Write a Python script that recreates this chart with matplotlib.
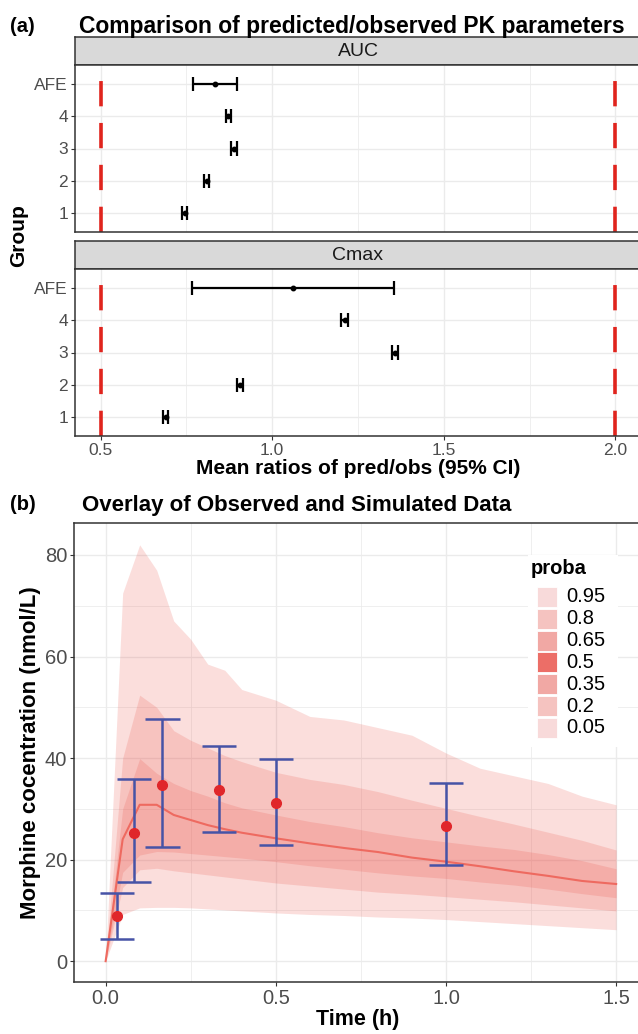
import matplotlib
matplotlib.use('Agg')
import matplotlib.pyplot as plt
from matplotlib.patches import Rectangle

plt.rcParams['font.family'] = ['Liberation Sans', 'DejaVu Sans']

W, H = 638, 1034          # output size in pixels (dpi 100)

# ---------------- panel (a): mean ratios pred/obs ----------------
groups = ['1', '2', '3', '4', 'AFE']
auc_mean = [0.745, 0.809, 0.888, 0.872, 0.833]
auc_lo   = [0.738, 0.800, 0.880, 0.865, 0.768]
auc_hi   = [0.752, 0.817, 0.896, 0.880, 0.898]
cmax_mean = [0.689, 0.906, 1.358, 1.211, 1.060]
cmax_lo   = [0.681, 0.897, 1.348, 1.201, 0.765]
cmax_hi   = [0.697, 0.915, 1.368, 1.221, 1.354]
ratio_limits = [0.5, 2.0]
ratio_ticks = [0.5, 1.0, 1.5, 2.0]

# ---------------- panel (b): simulated percentiles + observed ----------------
sim_t = [0, 0.05, 0.1, 0.15, 0.2, 0.25, 0.3, 0.35, 0.4, 0.5, 0.6, 0.7,
         0.8, 0.9, 1.0, 1.1, 1.2, 1.3, 1.4, 1.5]
p95 = [0, 72.5, 82.0, 77.0, 67.0, 63.4, 58.5, 57.3, 53.5, 51.4, 48.2, 47.5,
       46.0, 44.5, 41.0, 38.0, 36.5, 35.0, 32.5, 30.8]
p80 = [0, 40.0, 52.4, 50.0, 45.4, 43.5, 42.0, 40.5, 39.3, 37.2, 35.8, 34.8,
       33.4, 31.7, 30.1, 28.5, 27.0, 25.4, 23.8, 21.9]
p65 = [0, 30.0, 39.9, 37.0, 35.0, 33.6, 32.5, 31.2, 30.2, 28.8, 27.5, 26.5,
       25.3, 24.3, 23.5, 22.7, 22.0, 21.0, 19.8, 18.2]
p50 = [0, 24.0, 30.8, 30.8, 28.8, 27.8, 26.8, 26.0, 25.3, 24.2, 23.2, 22.3,
       21.5, 20.4, 19.6, 18.7, 17.7, 16.8, 15.8, 15.2]
p35 = [0, 17.5, 20.9, 21.6, 21.5, 21.2, 20.9, 20.6, 20.3, 19.6, 18.8, 18.1,
       17.4, 16.8, 16.3, 15.6, 15.0, 14.2, 13.3, 12.5]
p20 = [0, 14.5, 18.0, 18.3, 17.8, 17.4, 17.0, 16.6, 16.2, 15.4, 14.8, 14.2,
       13.6, 13.2, 12.7, 12.2, 11.7, 11.1, 10.5, 9.9]
p05 = [0, 9.2, 10.5, 10.6, 10.6, 10.5, 10.3, 10.1, 9.9, 9.5, 9.2, 9.0,
       8.7, 8.5, 8.2, 7.8, 7.4, 7.0, 6.6, 6.2]

obs_t    = [0.033, 0.083, 0.167, 0.333, 0.5, 1.0]
obs_mean = [8.9, 25.3, 34.7, 33.8, 31.2, 26.6]
obs_lo   = [4.4, 15.5, 22.5, 25.5, 22.9, 18.9]
obs_hi   = [13.4, 35.8, 47.6, 42.3, 39.9, 35.0]

proba_labels = ['0.95', '0.8', '0.65', '0.5', '0.35', '0.2', '0.05']
proba_colors = ['#f8dada', '#f5c3c0', '#f1a8a4', '#ec6e67',
                '#f1a8a4', '#f5c3c0', '#f8dada']

GRID = '#ebebeb'
FRAME = '#333333'
TICKTXT = '#4d4d4d'


def box(x0, y0, x1, y1):
    """pixel box (top-left origin) -> figure fraction rect"""
    return [x0 / W, 1 - y1 / H, (x1 - x0) / W, (y1 - y0) / H]


def style_axes(ax, fs):
    for s in ax.spines.values():
        s.set_color(FRAME)
        s.set_linewidth(1.1)
    ax.tick_params(colors=FRAME, labelcolor=TICKTXT, labelsize=fs,
                   length=3, width=0.8, pad=2)
    ax.tick_params(which='minor', length=0)
    ax.grid(True, which='major', color=GRID, lw=1.0, zorder=0)
    ax.grid(True, which='minor', color=GRID, lw=0.55, zorder=0)
    ax.set_axisbelow(True)


def strip(rect, label):
    sax = fig.add_axes(rect)
    sax.set_facecolor('#d9d9d9')
    sax.set_xticks([])
    sax.set_yticks([])
    for s in sax.spines.values():
        s.set_color(FRAME)
        s.set_linewidth(1.1)
    sax.text(0.5, 0.47, label, ha='center', va='center', fontsize=14,
             color='#1a1a1a', transform=sax.transAxes)


def ratio_panel(rect, mean, lo, hi, show_x):
    ax = fig.add_axes(rect)
    ypos = list(range(len(groups)))
    ax.set_xlim(0.425, 2.075)
    ax.set_ylim(-0.6, len(groups) - 0.4)
    ax.set_xticks(ratio_ticks)
    ax.set_xticks([0.75, 1.25, 1.75], minor=True)
    ax.set_yticks(ypos)
    ax.set_yticklabels(groups)
    style_axes(ax, 12.5)
    for v in ratio_limits:
        ax.axvline(v, color='#e0241d', lw=2.6, linestyle=(0, (7, 4.6)), zorder=2)
    ax.hlines(ypos, lo, hi, color='black', lw=1.6, zorder=3)
    ax.vlines(lo, [y - 0.22 for y in ypos], [y + 0.22 for y in ypos],
              color='black', lw=1.6, zorder=3)
    ax.vlines(hi, [y - 0.22 for y in ypos], [y + 0.22 for y in ypos],
              color='black', lw=1.6, zorder=3)
    ax.plot(mean, ypos, 'o', color='black', ms=3.2, zorder=4)
    if show_x:
        ax.set_xticklabels(['0.5', '1.0', '1.5', '2.0'])
    else:
        ax.tick_params(axis='x', labelbottom=False, length=0)
    return ax


fig = plt.figure(figsize=(W / 100, H / 100), dpi=100)

# ----- (a) -----
fig.text(10 / W, 1 - 27 / H, '(a)', fontsize=14.5, fontweight='bold', va='center')
fig.text(79 / W, 1 - 26 / H, 'Comparison of predicted/observed PK parameters',
         fontsize=16.5, fontweight='bold', va='center')
strip(box(75, 37, 641, 65), 'AUC')
ratio_panel(box(75, 65, 641, 232), auc_mean, auc_lo, auc_hi, False)
strip(box(75, 241, 641, 269), 'Cmax')
ax_c = ratio_panel(box(75, 269, 641, 436), cmax_mean, cmax_lo, cmax_hi, True)
ax_c.set_xlabel('Mean ratios of pred/obs (95% CI)', fontsize=15,
                fontweight='bold', labelpad=1)
fig.text(19 / W, 1 - 236 / H, 'Group', rotation=90, fontsize=15,
         fontweight='bold', ha='center', va='center')

# ----- (b) -----
fig.text(10 / W, 1 - 505 / H, '(b)', fontsize=14.5, fontweight='bold', va='center')
fig.text(82 / W, 1 - 505 / H, 'Overlay of Observed and Simulated Data',
         fontsize=16, fontweight='bold', va='center')

ax = fig.add_axes(box(74, 523, 642, 982))
ax.set_xlim(-0.093, 1.576)
ax.set_ylim(-4.1, 86.3)
ax.set_xticks([0, 0.5, 1.0, 1.5])
ax.set_xticklabels(['0.0', '0.5', '1.0', '1.5'])
ax.set_xticks([0.25, 0.75, 1.25], minor=True)
ax.set_yticks([0, 20, 40, 60, 80])
ax.set_yticks([10, 30, 50, 70], minor=True)
style_axes(ax, 14.5)

band = '#ea4a40'
ax.fill_between(sim_t, p05, p95, color=band, alpha=0.18, lw=0, zorder=1)
ax.fill_between(sim_t, p20, p80, color=band, alpha=0.18, lw=0, zorder=1)
ax.fill_between(sim_t, p35, p65, color=band, alpha=0.18, lw=0, zorder=1)
ax.plot(sim_t, p50, color='#ee6a60', lw=1.5, zorder=2)

ax.vlines(obs_t, obs_lo, obs_hi, color='#4653a6', lw=1.8, zorder=3)
ax.hlines(obs_lo, [t - 0.05 for t in obs_t], [t + 0.05 for t in obs_t],
          color='#4653a6', lw=1.8, zorder=3)
ax.hlines(obs_hi, [t - 0.05 for t in obs_t], [t + 0.05 for t in obs_t],
          color='#4653a6', lw=1.8, zorder=3)
ax.plot(obs_t, obs_mean, 'o', color='#e0262a', ms=7, zorder=4)

ax.set_xlabel('Time (h)', fontsize=15.5, fontweight='bold', labelpad=1)
ax.set_ylabel('Morphine cocentration (nmol/L)', fontsize=16,
              fontweight='bold', labelpad=3)

# legend drawn by hand in pixel coords, like the ggplot inside legend
fig.patches.append(Rectangle((528 / W, 1 - 747 / H), 90 / W, 192 / H,
                             transform=fig.transFigure, facecolor='white',
                             edgecolor='none', zorder=5))
fig.text(531 / W, 1 - 568 / H, 'proba', fontsize=14.5, fontweight='bold',
         va='center', zorder=6)
for i, (lab, col) in enumerate(zip(proba_labels, proba_colors)):
    yc = 597 + i * 21.8
    fig.patches.append(Rectangle((537 / W, 1 - (yc + 10) / H), 20 / W, 20 / H,
                                 transform=fig.transFigure, facecolor=col,
                                 edgecolor='white', lw=0.6, zorder=6))
    fig.text(566 / W, 1 - yc / H, lab, fontsize=14.5, va='center',
             color='black', zorder=6)

fig.savefig('out.png', dpi=100)
